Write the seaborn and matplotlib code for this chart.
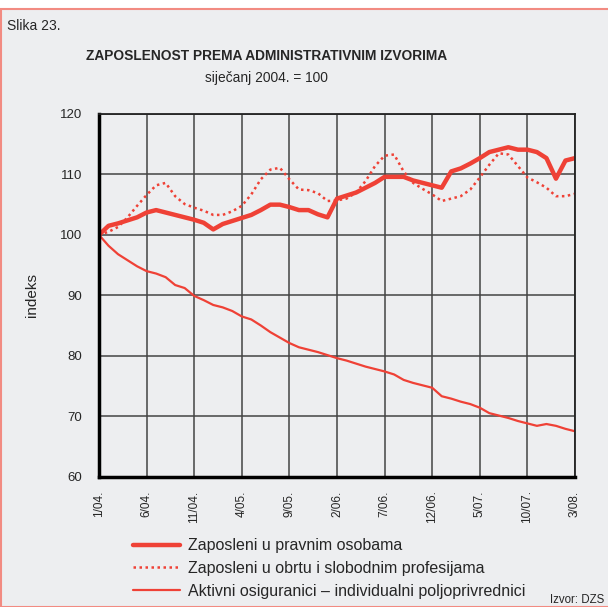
import numpy as np
import pandas as pd
import matplotlib
matplotlib.use("Agg")
import matplotlib.pyplot as plt
import seaborn as sns

# mjeseci od 1/04. do 3/08.
tick_labels = ["1/04.", "6/04.", "11/04.", "4/05.", "9/05.", "2/06.",
               "7/06.", "12/06.", "5/07.", "10/07.", "3/08."]

pravne_osobe = [100.0, 101.5, 101.9, 102.4, 102.9, 103.7, 104.1, 103.7, 103.3, 102.9,
                102.5, 102.0, 100.9, 101.8, 102.3, 102.8, 103.3, 104.1, 105.0, 105.0,
                104.6, 104.1, 104.1, 103.4, 102.9, 106.0, 106.5, 107.0, 107.8, 108.6,
                109.6, 109.6, 109.6, 109.0, 108.6, 108.2, 107.8, 110.5, 111.0, 111.8,
                112.7, 113.7, 114.1, 114.5, 114.1, 114.1, 113.7, 112.7, 109.3, 112.3,
                112.7]

obrt = [100.0, 100.5, 101.3, 102.9, 104.8, 106.6, 108.2, 108.6, 106.4, 105.1,
        104.5, 104.0, 103.3, 103.3, 103.9, 104.8, 106.7, 109.2, 110.8, 111.1,
        109.2, 107.5, 107.4, 106.9, 105.6, 105.7, 106.0, 107.0, 108.9, 111.4,
        113.1, 113.3, 110.5, 108.6, 107.6, 106.7, 105.6, 106.0, 106.4, 107.5,
        109.5, 111.6, 113.5, 113.3, 111.4, 109.5, 108.7, 107.8, 106.4, 106.4,
        106.8]

poljoprivrednici = [100.0, 98.2, 96.8, 95.8, 94.8, 94.0, 93.6, 93.0, 91.7, 91.2,
                    89.9, 89.2, 88.4, 88.0, 87.4, 86.5, 86.0, 85.0, 83.9, 83.0,
                    82.1, 81.4, 81.0, 80.6, 80.1, 79.6, 79.2, 78.7, 78.2, 77.8,
                    77.4, 76.9, 76.0, 75.5, 75.1, 74.7, 73.3, 72.9, 72.4, 72.0,
                    71.4, 70.5, 70.1, 69.7, 69.2, 68.8, 68.4, 68.7, 68.4, 67.9,
                    67.5]

series_names = ["Zaposleni u pravnim osobama",
                "Zaposleni u obrtu i slobodnim profesijama",
                "Aktivni osiguranici \u2013 individualni poljoprivrednici"]

RED = "#EF4136"
BG = "#EDEEF0"

mjesec = np.arange(len(pravne_osobe))
df = pd.DataFrame({"mjesec": mjesec,
                   series_names[0]: pravne_osobe,
                   series_names[1]: obrt,
                   series_names[2]: poljoprivrednici})

sns.set_style("white")
plt.rcParams["font.family"] = ["Liberation Sans", "DejaVu Sans"]

fig = plt.figure(figsize=(6.08, 6.07), dpi=100)
fig.patch.set_facecolor("white")
# sivi okvir s crvenim rubom
fig.add_artist(plt.Rectangle((0.0015, 0), 1.2, 1 - 8.5 / 607, transform=fig.transFigure,
                             facecolor=BG, edgecolor="#F28B82", linewidth=1.5, zorder=-10))

ax = fig.add_axes([99 / 608, 1 - 476.6 / 607, 476 / 608, 362.6 / 607])
ax.set_facecolor(BG)

styles = [dict(linewidth=3.2, linestyle="-"),
          dict(linewidth=1.8, linestyle=(0, (1, 1.4))),
          dict(linewidth=1.6, linestyle="-")]
for name, st in zip(series_names, styles):
    sns.lineplot(data=df, x="mjesec", y=name, ax=ax, color=RED, label=name, **st)

ax.set_xlim(0, 50)
ax.set_ylim(60, 120)
ax.set_xticks(np.arange(0, 51, 5))
ax.set_xticklabels(tick_labels, rotation=90, fontsize=8.5)
ax.set_yticks(np.arange(60, 121, 10))
ax.tick_params(axis="y", labelsize=9.5, length=7, width=1.2, color="#555555", pad=5)
ax.tick_params(axis="x", length=7, width=1.2, color="#555555", pad=3)
ax.grid(True, color="#444444", linewidth=1.3, alpha=0.85)
ax.set_axisbelow(True)
for side in ["left", "bottom"]:
    ax.spines[side].set_linewidth(2.5)
    ax.spines[side].set_color("black")
for side in ["top", "right"]:
    ax.spines[side].set_linewidth(1.3)
    ax.spines[side].set_color("#222222")
ax.set_xlabel("")
ax.set_ylabel("indeks", fontsize=11, labelpad=15)

leg = ax.legend(loc="upper left", bbox_to_anchor=(119 / 608, 1 - 524 / 607),
                bbox_transform=fig.transFigure, frameon=False, fontsize=11.5,
                handlelength=2.9, handletextpad=0.55, labelspacing=0.48)

fig.text(7 / 608, 1 - 26 / 607, "Slika 23.", fontsize=10, va="center", ha="left")
fig.text(267 / 608, 1 - 56 / 607, "ZAPOSLENOST PREMA ADMINISTRATIVNIM IZVORIMA",
         fontsize=9.9, fontweight="bold", ha="center", va="center")
fig.text(266 / 608, 1 - 78 / 607, "siječanj 2004. = 100", fontsize=9.9,
         ha="center", va="center")
fig.text(550 / 608, 1 - 600 / 607, "Izvor: DZS", fontsize=8.3, ha="left", va="center")

fig.savefig("out.png", dpi=100, facecolor=fig.get_facecolor())
